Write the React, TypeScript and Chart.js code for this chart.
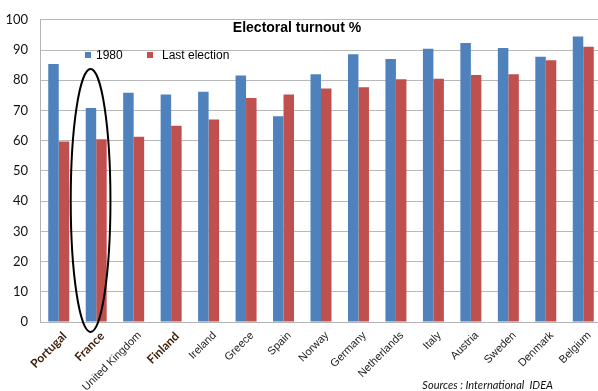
import React, { useEffect, useRef } from "react";
import { Chart, registerables } from "chart.js";

Chart.register(...registerables);

const countries = [
  "Portugal", "France", "United Kingdom", "Finland", "Ireland", "Greece", "Spain",
  "Norway", "Germany", "Netherlands", "Italy", "Austria", "Sweden", "Denmark", "Belgium",
];
const turnout1980 = [85.4, 70.8, 75.9, 75.3, 76.2, 81.6, 68.1, 82.0, 88.6, 87.0, 90.4, 92.3, 90.7, 87.8, 94.5];
const turnoutLast = [59.7, 60.5, 61.3, 64.9, 67.0, 74.1, 75.3, 77.3, 77.7, 80.3, 80.5, 81.7, 82.0, 86.6, 91.1];
const highlighted = ["Portugal", "France", "Finland"];
const seriesNames = ["1980", "Last election"];
const titleText = "Electoral turnout %";
const sourceText = "Sources : International  IDEA";
// ellipse around France, in data units
const ellipseCategory = 1;
const ellipseOffset = -0.15;
const ellipseCenterValue = 40.2;
const ellipseRadiusValue = 43.5;
const ellipseRadiusCategories = 0.53;

const BLUE = "#4f81bd";
const RED = "#c0504d";

const overlayPlugin = {
  id: "overlay",
  afterDatasetsDraw(chart: any) {
    const { ctx, scales } = chart;
    const x = scales.x;
    const y = scales.y;
    const step = x.getPixelForValue(1) - x.getPixelForValue(0);
    const cx = x.getPixelForValue(ellipseCategory) + ellipseOffset * step;
    const cy = y.getPixelForValue(ellipseCenterValue);
    const ry = Math.abs(y.getPixelForValue(ellipseRadiusValue) - y.getPixelForValue(0));
    const rx = ellipseRadiusCategories * step;
    ctx.save();
    ctx.beginPath();
    ctx.ellipse(cx, cy, rx, ry, 0, 0, Math.PI * 2);
    ctx.lineWidth = 2;
    ctx.strokeStyle = "#000";
    ctx.stroke();
    ctx.restore();
  },
  afterDraw(chart: any) {
    const { ctx } = chart;
    ctx.save();
    // title
    ctx.fillStyle = "#000";
    ctx.font = "bold 14px 'Liberation Sans', Arial, sans-serif";
    ctx.textAlign = "center";
    ctx.textBaseline = "middle";
    ctx.fillText(titleText, 297, 28);
    // legend
    ctx.font = "12px 'Liberation Sans', Arial, sans-serif";
    ctx.textAlign = "left";
    ctx.fillStyle = BLUE;
    ctx.fillRect(85, 52, 6, 6);
    ctx.fillStyle = "#000";
    ctx.fillText(seriesNames[0], 96, 56);
    ctx.fillStyle = RED;
    ctx.fillRect(147, 52, 6, 6);
    ctx.fillStyle = "#000";
    ctx.fillText(seriesNames[1], 162, 56);
    // source
    ctx.font = "italic 11px Lato, 'Open Sans', sans-serif";
    ctx.textAlign = "right";
    ctx.textBaseline = "alphabetic";
    ctx.fillStyle = "#111";
    ctx.fillText(sourceText, 553, 389);
    ctx.restore();
  },
};

export default function App() {
  const ref = useRef<HTMLCanvasElement>(null);
  useEffect(() => {
    if (!ref.current) return;
    const chart = new Chart(ref.current, {
      type: "bar",
      data: {
        labels: countries,
        datasets: [
          { label: seriesNames[0], data: turnout1980, backgroundColor: BLUE, categoryPercentage: 0.56, barPercentage: 1 },
          { label: seriesNames[1], data: turnoutLast, backgroundColor: RED, categoryPercentage: 0.56, barPercentage: 1 },
        ],
      },
      options: {
        responsive: false,
        animation: false,
        layout: { padding: { top: 16, right: 8, left: 0, bottom: 0 } },
        plugins: { legend: { display: false }, title: { display: false }, tooltip: { enabled: false } },
        scales: {
          x: {
            grid: { display: false, drawTicks: false },
            border: { color: "#b3b3b3", width: 1 },
            afterFit(scale: any) { scale.height = 69; },
            ticks: {
              autoSkip: false,
              minRotation: 45,
              maxRotation: 45,
              padding: 7,
              labelOffset: 6,
              color: (c: any) => (highlighted.includes(countries[c.index]) ? "#3b1e08" : "#222"),
              font: (c: any) =>
                highlighted.includes(countries[c.index])
                  ? { family: "Lato, 'Open Sans', sans-serif", size: 12, weight: "bold" }
                  : { family: "'Liberation Sans', Arial, sans-serif", size: 11, weight: "normal" },
            },
          },
          y: {
            min: 0,
            max: 100,
            afterFit(scale: any) { scale.width = 40; },
            grid: { color: "#b8b8b8", drawTicks: false },
            border: { color: "#b3b3b3", width: 1 },
            ticks: {
              stepSize: 10,
              padding: 12,
              color: "#111",
              font: { family: "Lato, 'Open Sans', sans-serif", size: 13 },
            },
          },
        },
      },
      plugins: [overlayPlugin],
    });
    return () => chart.destroy();
  }, []);
  return (
    <div style={{ position: "fixed", left: 0, top: 0, width: 598, height: 391, overflow: "hidden", background: "#fff" }}>
      <canvas ref={ref} width={610} height={391} style={{ position: "absolute", left: 0, top: 0 }} />
    </div>
  );
}
